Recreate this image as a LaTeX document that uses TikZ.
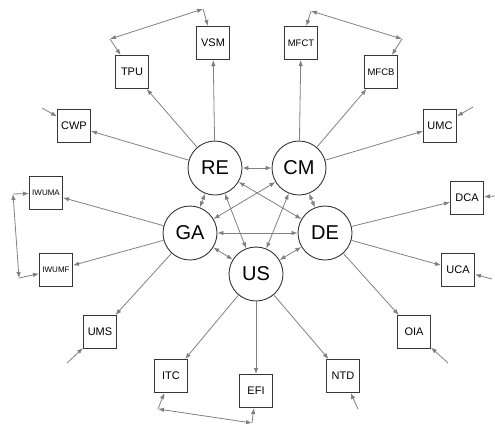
\documentclass[tikz,border=0pt]{standalone}
\usepackage{fontspec}
\setmainfont{Liberation Sans}
\usetikzlibrary{arrows.meta}
\definecolor{edgegray}{RGB}{128,128,128}
\definecolor{boxgray}{RGB}{55,55,55}

\begin{document}
\begin{tikzpicture}[->,>={Latex[length=6pt,width=4.5pt]},x=1pt,y=-1pt,line width=0.8pt,
  hub/.style={circle,draw=boxgray,fill=white,line width=0.9pt,minimum size=54pt,inner sep=0pt,font=\fontsize{20}{20}\selectfont},
  var/.style={rectangle,draw=boxgray,fill=white,line width=1pt,minimum size=33pt,inner sep=0pt,font=\fontsize{11}{11}\selectfont},
  narrow/.style={var,font=\fontsize{8}{8}\selectfont},
  midsize/.style={var,font=\fontsize{9.5}{9.5}\selectfont},
  every edge/.style={draw=edgegray}]
  \useasboundingbox (0,0) rectangle (495,426);

  % hubs
  \node[hub]     (RE)    at (215,168)    {RE};
  \node[hub]     (CM)    at (299,168)    {CM};
  \node[hub]     (GA)    at (190,233)    {GA};
  \node[hub]     (DE)    at (325,233)    {DE};
  \node[hub]     (US)    at (256,274)    {US};

  % outer variables
  \node[var]     (VSM)   at (213,43)     {VSM};
  \node[var]     (TPU)   at (132,72)     {TPU};
  \node[var]     (CWP)   at (74,126)     {CWP};
  \node[midsize] (MFCT)  at (301,43)     {MFCT};
  \node[midsize] (MFCB)  at (381,72)     {MFCB};
  \node[var]     (UMC)   at (440,126)    {UMC};
  \node[narrow]  (IWUMA) at (46,193)     {IWUMA};
  \node[narrow]  (IWUMF) at (56,270)     {IWUMF};
  \node[var]     (UMS)   at (100,332)    {UMS};
  \node[var]     (DCA)   at (467,198)    {DCA};
  \node[var]     (UCA)   at (458,270)    {UCA};
  \node[var]     (OIA)   at (414,332)    {OIA};
  \node[var]     (ITC)   at (171,376)    {ITC};
  \node[var]     (EFI)   at (256,391)    {EFI};
  \node[var]     (NTD)   at (343,376)    {NTD};

  % loose ends and corners
  \coordinate (cwpIn)  at (42,108);
  \coordinate (umcIn)  at (473,107);
  \coordinate (umsIn)  at (67,363);
  \coordinate (dcaIn)  at (495,196);
  \coordinate (ucaIn)  at (492,279);
  \coordinate (oiaIn)  at (448,363);
  \coordinate (ntdIn)  at (358,409);
  \coordinate (tpuC)   at (110,39);
  \coordinate (vsmC)   at (203,9);
  \coordinate (mfctC)  at (311,11);
  \coordinate (mfcbC)  at (402,39);
  \coordinate (iwumaC) at (13,194);
  \coordinate (iwumfC) at (19,278);
  \coordinate (itcC)   at (158,409);
  \coordinate (efiC)   at (252,423);

  \path (RE) edge (VSM) edge (TPU) edge (CWP)
        (CM) edge (MFCT) edge (MFCB) edge (UMC)
        (GA) edge (IWUMA) edge (IWUMF) edge (UMS)
        (DE) edge (DCA) edge (UCA) edge (OIA)
        (US) edge (ITC) edge (EFI) edge (NTD);

  \path[<->] (RE) edge (CM) edge (GA) edge (US) edge (DE)
             (CM) edge (GA) edge (DE) edge (US)
             (GA) edge (DE) edge (US)
             (DE) edge (US);

  \path (cwpIn) edge (CWP)
        (umcIn) edge (UMC)
        (umsIn) edge (UMS)
        (dcaIn) edge (DCA)
        (ucaIn) edge (UCA)
        (oiaIn) edge (OIA)
        (ntdIn) edge (NTD);

  \path (tpuC) edge (TPU)   (tpuC) edge[<->] (vsmC)     (vsmC) edge (VSM)
        (mfctC) edge (MFCT) (mfctC) edge[<->] (mfcbC)   (mfcbC) edge (MFCB)
        (iwumaC) edge (IWUMA) (iwumaC) edge[<->] (iwumfC) (iwumfC) edge (IWUMF)
        (itcC) edge (ITC)   (itcC) edge[<->] (efiC)     (efiC) edge (EFI);
\end{tikzpicture}
\end{document}
